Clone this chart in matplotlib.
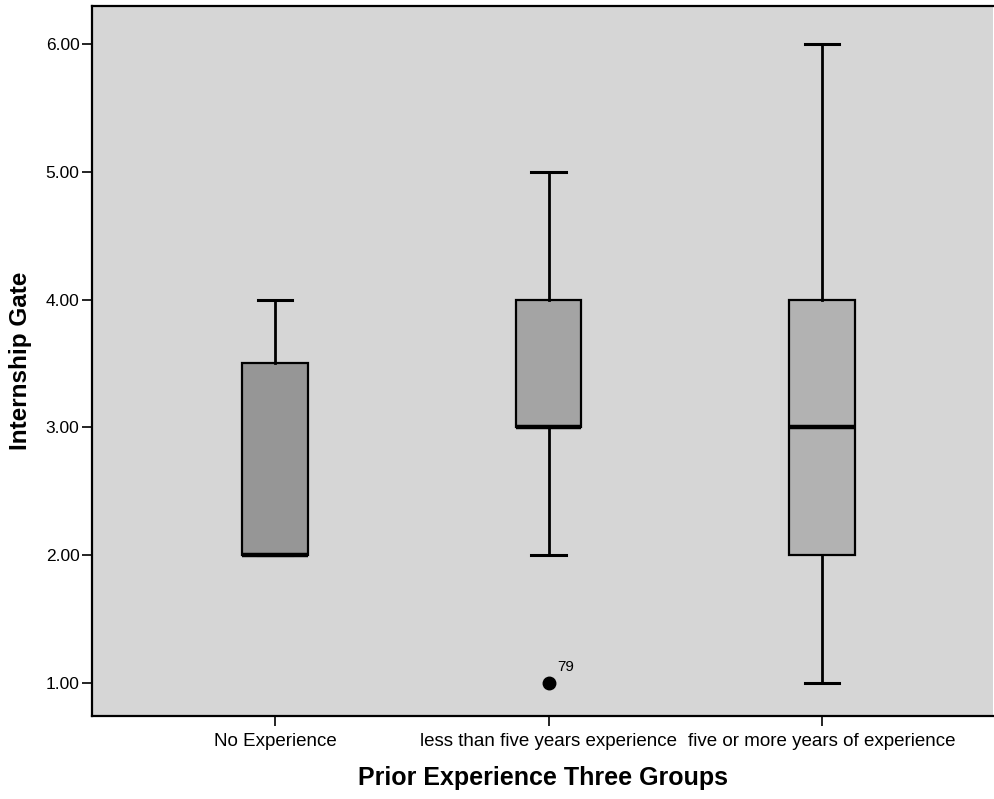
import matplotlib
matplotlib.use("Agg")
import matplotlib.pyplot as plt

plt.rcParams['font.family'] = ['Liberation Sans', 'DejaVu Sans']

# box summaries
groups = ["No Experience", "less than five years experience", "five or more years of experience"]
q1 = [2.0, 3.0, 2.0]
medians = [2.0, 3.0, 3.0]
q3 = [3.5, 4.0, 4.0]
whislo = [2.0, 2.0, 1.0]
whishi = [4.0, 5.0, 6.0]
outliers = [[], [1.0], []]
outlier_ids = [[], ["79"], []]
yticks = [1, 2, 3, 4, 5, 6]

box_colors = ["#969696", "#a4a4a4", "#b2b2b2"]

fig = plt.figure(figsize=(9.94, 7.99), dpi=100)
ax = fig.add_axes([92/994, 1 - 716/799, (993 - 92)/994, (716 - 6)/799])
ax.set_facecolor("#d6d6d6")

stats = []
for i in range(len(groups)):
    stats.append(dict(med=medians[i], q1=q1[i], q3=q3[i],
                      whislo=whislo[i], whishi=whishi[i],
                      fliers=outliers[i], label=groups[i]))

pos = [1, 2, 3]
bp = ax.bxp(stats, positions=pos, widths=0.238, capwidths=0.125,
            patch_artist=True, showfliers=True,
            boxprops=dict(edgecolor="black", linewidth=1.6),
            medianprops=dict(color="black", linewidth=3.2),
            whiskerprops=dict(color="black", linewidth=2),
            capprops=dict(color="black", linewidth=2.2),
            flierprops=dict(marker="o", markerfacecolor="black",
                            markeredgecolor="black", markersize=9))
for patch, c in zip(bp["boxes"], box_colors):
    patch.set_facecolor(c)

for p, ys, ids in zip(pos, outliers, outlier_ids):
    for y, lab in zip(ys, ids):
        ax.annotate(lab, (p, y), xytext=(6, 9), textcoords="offset points",
                    fontsize=11, color="black")

ax.set_xlim(0.331, 3.625)
ax.set_ylim(0.742, 6.297)
ax.set_yticks(yticks)
ax.set_yticklabels([f"{v:.2f}" for v in yticks], fontsize=12.5)
ax.set_xticks(pos)
ax.set_xticklabels(groups, fontsize=13.5)
ax.tick_params(axis="both", direction="out", length=7, width=1.2, color="black")
ax.tick_params(axis="x", pad=5)
ax.tick_params(axis="y", pad=2)

for s in ["left", "top", "bottom"]:
    ax.spines[s].set_linewidth(1.6)
    ax.spines[s].set_color("black")
ax.spines["right"].set_visible(False)

ax.set_ylabel("Internship Gate", fontsize=17.5, fontweight="bold", labelpad=10)
ax.set_xlabel("Prior Experience Three Groups", fontsize=18, fontweight="bold", labelpad=12)

fig.savefig("out.png", dpi=100)
